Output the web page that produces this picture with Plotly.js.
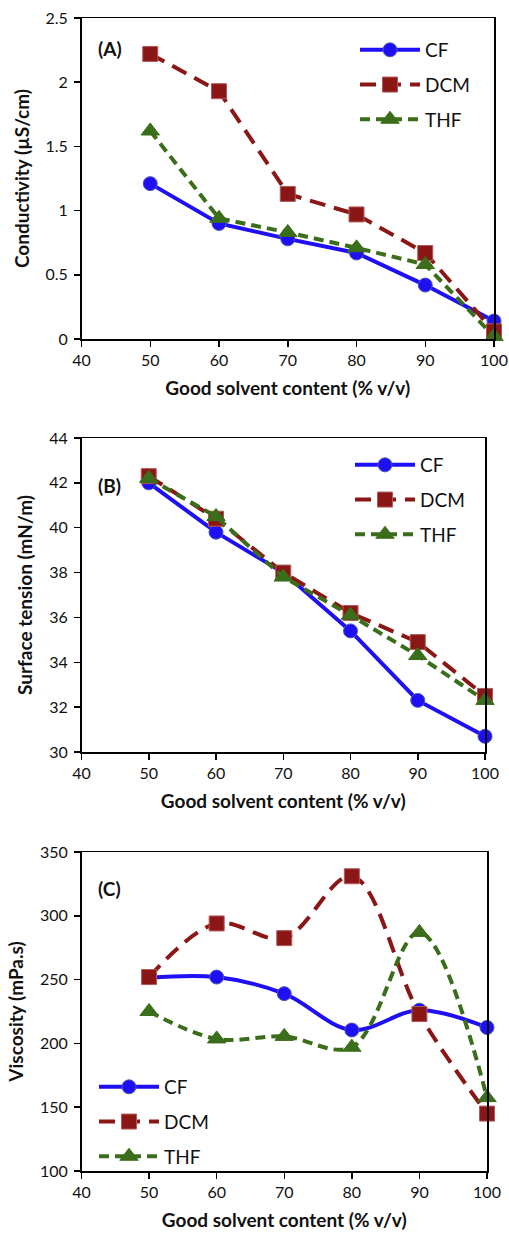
<!DOCTYPE html>
<html>
<head>
<meta charset="utf-8">
<script src="https://cdn.plot.ly/plotly-3.0.1.min.js"></script>
<style>html,body{margin:0;padding:0;background:#fff;}#chart{width:509px;height:1233px;}</style>
</head>
<body>
<div id="chart"></div>
<script>
// Shared x categories (good solvent content, % v/v)
var content = [50, 60, 70, 80, 90, 100];
var seriesNames = ["CF", "DCM", "THF"];

// (A) Conductivity (µS/cm)
var condCF  = [1.21, 0.90, 0.78, 0.67, 0.42, 0.14];
var condDCM = [2.22, 1.93, 1.13, 0.97, 0.67, 0.06];
var condTHF = [1.62, 0.94, 0.83, 0.71, 0.58, 0.02];

// (B) Surface tension (mN/m)
var stCF  = [42.0, 39.8, 38.0, 35.4, 32.3, 30.7];
var stDCM = [42.3, 40.4, 38.0, 36.2, 34.9, 32.5];
var stTHF = [42.2, 40.5, 37.8, 36.1, 34.3, 32.3];

// (C) Viscosity (mPa.s)
var viscCF  = [251.5, 252, 239, 210.5, 226, 212.5];
var viscDCM = [252, 294, 282.5, 331, 223, 145];
var viscTHF = [225, 203.5, 205.5, 197, 287, 157.5];

var colors = {CF: "#1f0ff5", DCM: "#8b1616", THF: "#3a6e1a"};
var FONT = "Lato, 'Open Sans', sans-serif";

function styleFor(name) {
  if (name === "CF") return {
    line: {color: colors.CF, width: 4, dash: "solid"},
    marker: {symbol: "circle", size: 14, color: colors.CF, line: {color: "#4a5ab0", width: 1}}
  };
  if (name === "DCM") return {
    line: {color: colors.DCM, width: 4, dash: "16px,9px"},
    marker: {symbol: "square", size: 15, color: colors.DCM, line: {color: "#b25a5a", width: 1}}
  };
  return {
    line: {color: colors.THF, width: 4, dash: "10px,6px"},
    marker: {symbol: "triangle-up", size: 16, color: colors.THF, line: {color: colors.THF, width: 1}}
  };
}

function makeTrace(name, ys, axisIdx, legendName, shape) {
  var s = styleFor(name);
  return {
    x: content, y: ys, name: name, type: "scatter", mode: "lines+markers",
    xaxis: "x" + (axisIdx === 1 ? "" : axisIdx), yaxis: "y" + (axisIdx === 1 ? "" : axisIdx),
    line: Object.assign({shape: shape}, s.line), marker: s.marker,
    legend: legendName, legendgroup: name + axisIdx, cliponaxis: false
  };
}

var data = [];
var sets = [[condCF, condDCM, condTHF], [stCF, stDCM, stTHF], [viscCF, viscDCM, viscTHF]];
var legends = ["legend", "legend2", "legend3"];
var shapes = ["linear", "linear", "spline"];
for (var p = 0; p < 3; p++) {
  for (var k = 0; k < 3; k++) {
    data.push(makeTrace(seriesNames[k], sets[p][k], p + 1, legends[p], shapes[p]));
  }
}

var TICK = 16, TITLE = 19, LEG = 19, LAB = 19;

function xAxis(domain, anchor) {
  return {
    domain: domain, anchor: anchor, range: [40, 100], dtick: 10, tick0: 40,
    showgrid: false, zeroline: false, showline: true, linecolor: "#000", linewidth: 1.5,
    mirror: true, ticks: "outside", ticklen: 6, tickwidth: 1.5, tickcolor: "#000",
    tickfont: {family: FONT, size: TICK, color: "#111"},
    title: {text: "<b>Good solvent content (% v/v)</b>", font: {family: FONT, size: TITLE, color: "#111"}, standoff: 14},
    automargin: false
  };
}
function yAxis(domain, anchor, range, dtick, title) {
  return {
    domain: domain, anchor: anchor, range: range, dtick: dtick, tick0: range[0],
    showgrid: false, zeroline: false, showline: true, linecolor: "#000", linewidth: 1.5,
    mirror: true, ticks: "outside", ticklen: 6, tickwidth: 1.5, tickcolor: "#000",
    tickfont: {family: FONT, size: TICK, color: "#111"}, ticklabelstandoff: 3,
    title: {text: "<b>" + title + "</b>", font: {family: FONT, size: TITLE, color: "#111"}, standoff: 11},
    automargin: false
  };
}

function legendAt(x, y) {
  return {
    x: x, y: y, xanchor: "left", yanchor: "top", bgcolor: "rgba(0,0,0,0)",
    font: {family: FONT, size: LEG, color: "#111"}, traceorder: "grouped", tracegroupgap: 7,
    itemwidth: 60
  };
}

var H = 1233, W = 509;
function py(px) { return 1 - px / H; }
function px(v) { return v / W; }

var layout = {
  width: W, height: H, margin: {l: 0, r: 0, t: 0, b: 0},
  paper_bgcolor: "#fff", plot_bgcolor: "#fff", showlegend: true,
  font: {family: FONT},
  xaxis: xAxis([px(81.5), px(494)], "y"),
  yaxis: yAxis([py(339), py(18)], "x", [0, 2.5], 0.5, "Conductivity (µS/cm)"),
  xaxis2: xAxis([px(81.5), px(485)], "y2"),
  yaxis2: yAxis([py(752), py(438)], "x2", [30, 44], 2, "Surface tension (mN/m)"),
  xaxis3: xAxis([px(81.5), px(487)], "y3"),
  yaxis3: yAxis([py(1171), py(852)], "x3", [100, 350], 50, "Viscosity (mPa.s)"),
  legend: legendAt(px(355), py(31)),
  legend2: legendAt(px(350), py(446)),
  legend3: legendAt(px(94), py(1068)),
  annotations: [
    {text: "<b>(A)</b>", xref: "x domain", yref: "y domain", x: 0.035, y: 0.905, xanchor: "left", yanchor: "middle", showarrow: false, font: {family: FONT, size: LAB, color: "#111"}},
    {text: "<b>(B)</b>", xref: "x2 domain", yref: "y2 domain", x: 0.035, y: 0.85, xanchor: "left", yanchor: "middle", showarrow: false, font: {family: FONT, size: LAB, color: "#111"}},
    {text: "<b>(C)</b>", xref: "x3 domain", yref: "y3 domain", x: 0.035, y: 0.885, xanchor: "left", yanchor: "middle", showarrow: false, font: {family: FONT, size: LAB, color: "#111"}}
  ]
};

Plotly.newPlot("chart", data, layout, {displayModeBar: false, staticPlot: true});
</script>
</body>
</html>
